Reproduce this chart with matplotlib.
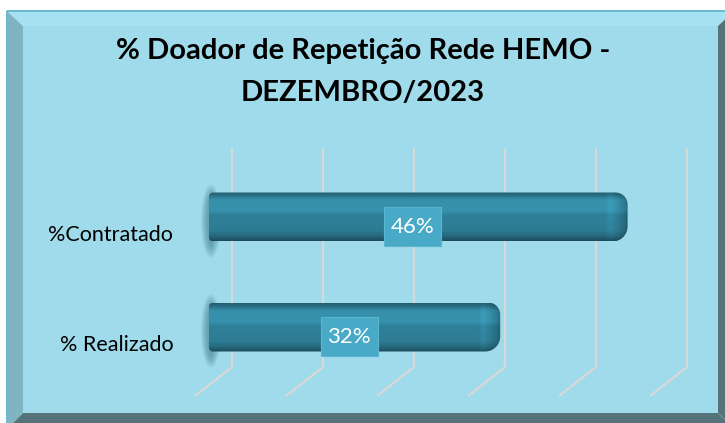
import numpy as np
import matplotlib
matplotlib.use('Agg')
import matplotlib.pyplot as plt
from matplotlib.patches import Polygon, Ellipse
from matplotlib.path import Path
from matplotlib.colors import LinearSegmentedColormap
from matplotlib.transforms import ScaledTranslation

# data
categories = ['% Realizado', '%Contratado']
values = [32, 46]
value_labels = ['32%', '46%']
grid_ticks = [0, 10, 20, 30, 40, 50]
title = '% Doador de Repetição Rede HEMO -\nDEZEMBRO/2023'

W, H = 725, 423
plt.rcParams['font.family'] = ['Lato', 'DejaVu Sans']

fig = plt.figure(figsize=(W / 100, H / 100), dpi=100)
fig.patch.set_facecolor('white')


def fp(pts):
    # pixel coords (y down) -> figure fraction
    return [(x / W, 1 - y / H) for x, y in pts]


def frame_poly(pts, **kw):
    fig.patches.append(Polygon(fp(pts), closed=True, transform=fig.transFigure, zorder=0, **kw))


# bevelled frame
face = '#9fdbea'
frame_poly([(8, 12), (733, 12), (718, 26), (23, 26)], fc='#a6e2f2', ec='none')
frame_poly([(8, 12), (23, 26), (23, 413), (8, 428)], fc='#7fb4c3', ec='none')
frame_poly([(733, 12), (718, 26), (718, 413), (733, 428)], fc='#567379', ec='none')
frame_poly([(8, 428), (23, 413), (718, 413), (733, 428)], fc='#567379', ec='none')
frame_poly([(23, 26), (718, 26), (718, 413), (23, 413)], fc=face, ec='none')
frame_poly([(7, 11), (735, 11), (735, 433), (7, 433)], fc='none', ec='#4eaec7', lw=1.2)

fig.text(363 / W, 1 - 72 / H, title, ha='center', va='center', fontsize=21,
         fontweight='bold', color='black', linespacing=1.8, zorder=3)

# axes: x 0 at px 209, 9.1 px per unit; y rows 110 px apart
ax_l, ax_r, ax_t, ax_b = 190, 700, 140, 400
ax = fig.add_axes([ax_l / W, 1 - ax_b / H, (ax_r - ax_l) / W, (ax_b - ax_t) / H])
ax.set_zorder(2)
ax.set_facecolor('none')
pxu, pyu = 9.1, 110.0
xlim = (-(209 - ax_l) / pxu, (ax_r - 209) / pxu)
ylim = (-(400 - 327) / pyu, 1 + (217 - 140) / pyu)
ypos = np.arange(len(categories))
for s in ax.spines.values():
    s.set_visible(False)
ax.set_xticks([])

# 3D-ish gridlines (back wall + floor)
back, front = 23 / pxu, -14 / pxu
y_top, y_floor, y_front = 1 + (217 - 148) / pyu, -(367 - 327) / pyu, -(396 - 327) / pyu
for g in grid_ticks:
    ax.plot([g + back, g + back, g + front], [y_top, y_floor, y_front],
            color='#d8d8d8', lw=1.6, solid_capstyle='butt', zorder=1)


def bar_outline(x0, y0, w, h, rl=4, rtr=12, rbr=15):
    # rounded bar outline in data coords, radii in pixels
    def arc(cx, cy, r, a0, a1):
        t = np.radians(np.linspace(a0, a1, 12))
        return [(cx + r * np.cos(a) / pxu, cy + r * np.sin(a) / pyu) for a in t]
    x1, y1 = x0 + w, y0 + h
    pts = []
    pts += arc(x0 + rl / pxu, y0 + rl / pyu, rl, 180, 270)
    pts += arc(x1 - rbr / pxu, y0 + rbr / pyu, rbr, 270, 360)
    pts += arc(x1 - rtr / pxu, y1 - rtr / pyu, rtr, 0, 90)
    pts += arc(x0 + rl / pxu, y1 - rl / pyu, rl, 90, 180)
    return pts


def label_box(x0, y0, width, height, mutation_size):
    # taller-than-wide padding for the data label boxes
    px, py = 0.3 * mutation_size, 0.42 * mutation_size
    x0, y0, x1, y1 = x0 - px, y0 - py, x0 + width + px, y0 + height + py
    return Path([(x0, y0), (x1, y0), (x1, y1), (x0, y1), (x0, y0)], closed=True)


# bars
bh = 49 / pyu
bars = ax.barh(ypos, values, height=bh, color='#2f8099', zorder=2)
cmap = LinearSegmentedColormap.from_list('bar', [
    (0.0, '#245d6f'), (0.06, '#2b6f85'), (0.15, '#3690aa'), (0.38, '#3792ad'),
    (0.46, '#2f8199'), (0.78, '#2d7c94'), (0.9, '#266a7e'), (1.0, '#1c4c5b')])
rows = cmap(np.linspace(0, 1, 60))[:, :3]
for rect in bars:
    x0, y0 = rect.get_x(), rect.get_y()
    w, h = rect.get_width(), rect.get_height()
    rect.set_visible(False)
    # soft shadow behind the left end
    for k in range(8):
        ax.add_patch(Ellipse((x0 + 2 / pxu, y0 + h / 2 - 4 / pyu), (20 - 1.8 * k) / pxu,
                             h * (1.5 - 0.07 * k), fc='#2c6a7b', ec='none', alpha=0.08, zorder=1.5))
    ncol = max(int(w * pxu), 2)
    dist = (np.arange(ncol)[::-1] + 0.5)  # px from right end
    fac = np.ones(ncol)
    cap = dist < 22
    fac[cap] = np.interp(dist[cap], [0, 4, 12, 18, 22], [0.72, 0.85, 1.0, 1.08, 1.0])
    img = np.clip(rows[:, None, :] * fac[None, :, None], 0, 1)
    outline = Polygon(bar_outline(x0, y0, w, h), closed=True, fc='none', ec='none', zorder=2)
    ax.add_patch(outline)
    im = ax.imshow(img, aspect='auto', extent=(x0, x0 + w, y0, y0 + h), origin='upper',
                   zorder=2, interpolation='bilinear')
    im.set_clip_path(outline)

# value labels
for y, v, lab in zip(ypos, values, value_labels):
    ax.annotate(lab, (v / 2, y), xytext=(-4, -7), textcoords='offset points',
                ha='center', va='center', fontsize=16, color='white', zorder=4,
                bbox=dict(boxstyle=label_box, fc='#48aac7', ec='#5ab5cf', lw=0.8))

ax.set_xlim(xlim)
ax.set_ylim(ylim)
ax.set_yticks(ypos, categories)
ax.tick_params(axis='y', length=0, pad=12, labelsize=15.5, labelcolor='black')
for lbl in ax.get_yticklabels():
    lbl.set_transform(lbl.get_transform() + ScaledTranslation(0, -0.155, fig.dpi_scale_trans))

fig.savefig('out.png', dpi=100, facecolor=fig.get_facecolor())
